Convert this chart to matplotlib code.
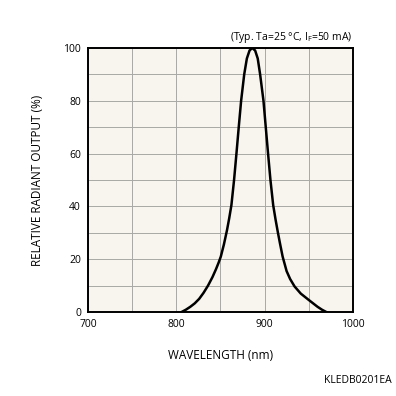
import matplotlib.pyplot as plt

# values
wavelength = [806, 811, 816, 821, 826, 831, 836, 841, 845, 848, 850.5, 854,
              857.5, 860, 862.5, 865.5, 868.2, 870.8, 873.5, 877, 880, 883,
              886, 889.4, 892.3, 895, 898.8, 901.4, 904, 906.7, 909.8,
              912.5, 915.2, 917.5, 920.5, 925, 929, 934, 941, 950, 955,
              960, 965, 970]
output = [0, 0.9, 2, 3.3, 5, 7.3, 10, 13.2, 16.2, 18.7, 21, 25.6,
          31, 35.5, 40.5, 50, 60, 70, 80, 90, 96, 99,
          100, 99, 96, 90, 80, 70, 60, 50, 40.5,
          35, 30, 26, 21, 15.5, 12.5, 9.7, 7, 4.6, 3.3,
          2, 0.9, 0]

x_ticks = [700, 800, 900, 1000]
y_ticks = [0, 20, 40, 60, 80, 100]

plt.rcParams['font.family'] = ['Open Sans', 'DejaVu Sans']

fig = plt.figure(figsize=(3.96, 3.96), dpi=100)
ax = fig.add_axes([0.222, 0.212, 0.669, 0.667])
ax.set_facecolor('#f7f5ee')

ax.plot(wavelength, output, color='black', lw=1.8, solid_joinstyle='round')

ax.set_xlim(700, 1000)
ax.set_ylim(0, 100)
ax.set_xticks(x_ticks)
ax.set_yticks(y_ticks)
ax.set_xticks(range(700, 1001, 50), minor=True)
ax.set_yticks(range(0, 101, 10), minor=True)
ax.grid(which='both', color='#a8a8a4', lw=0.7)
ax.set_axisbelow(True)
ax.tick_params(which='both', length=0, labelsize=7.5, pad=5)
for s in ax.spines.values():
    s.set_linewidth(1.4)

ax.set_xlabel('WAVELENGTH (nm)', fontsize=8.5, labelpad=14)
ax.set_ylabel('RELATIVE RADIANT OUTPUT (%)', fontsize=8.5, labelpad=14)

ax.text(1.0, 1.012, r'(Typ. Ta=25 °C, I$_\mathregular{F}$=50 mA)', transform=ax.transAxes,
        ha='right', va='bottom', fontsize=7.5)
fig.text(0.99, 0.025, 'KLEDB0201EA', ha='right', va='bottom', fontsize=7.5)

fig.savefig('out.png', dpi=100, facecolor='white')
